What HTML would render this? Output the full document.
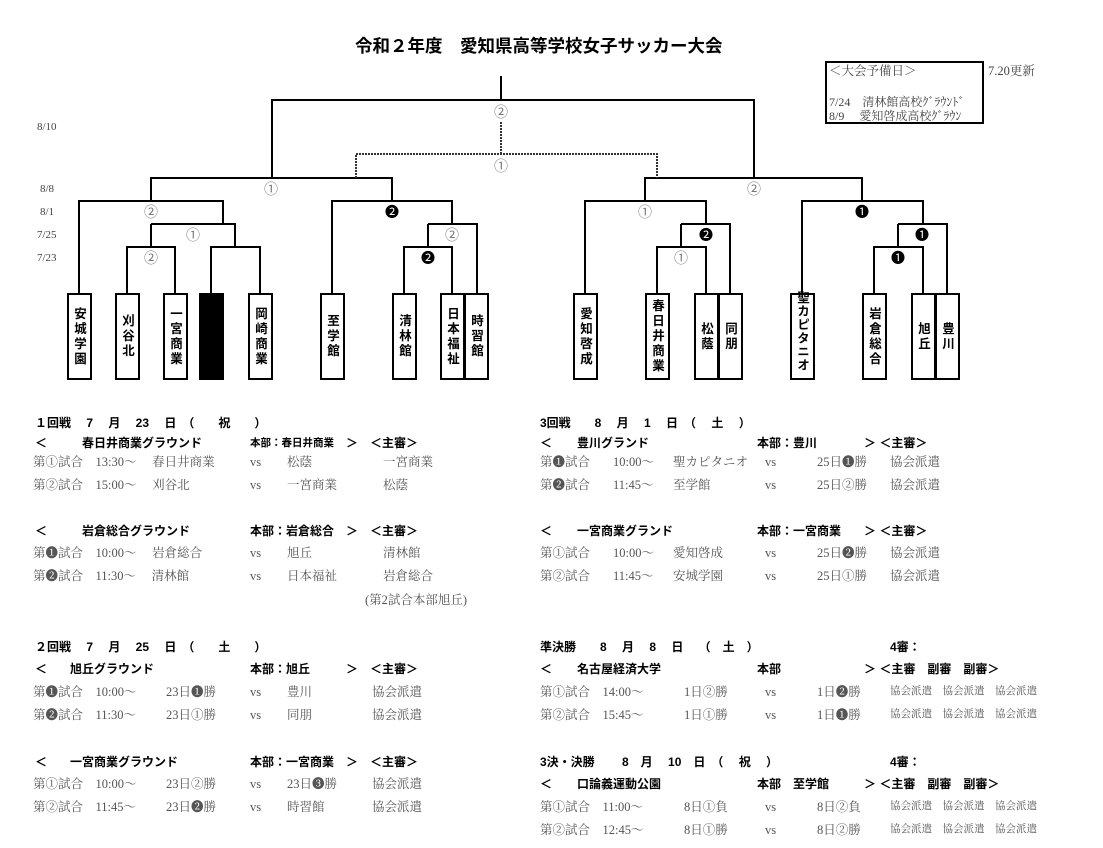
<!DOCTYPE html>
<html><head><meta charset="utf-8">
<style>
body{margin:0;width:1103px;height:848px;background:#fff;position:relative;overflow:hidden;font-family:"Liberation Serif","Noto Serif CJK SC",serif;}
.t{position:absolute;white-space:nowrap;line-height:16px;font-size:12.5px;color:#555;}
.b{font-family:"Liberation Sans","Noto Sans CJK JP",sans-serif;font-weight:bold;color:#000;font-size:12px;}
.s{font-size:10.5px;}
.box{position:absolute;top:293px;height:87px;border:2px solid #000;box-sizing:border-box;background:#fff;display:flex;justify-content:center;align-items:center;overflow:visible;}
.box span{writing-mode:vertical-rl;text-orientation:upright;font-family:"Liberation Sans","Noto Sans CJK JP",sans-serif;font-weight:bold;font-size:12.5px;letter-spacing:2.5px;color:#000;}
.bk{background:#000;}
.c{position:absolute;font-family:"Noto Sans CJK JP","DejaVu Sans",sans-serif;font-size:14px;line-height:16px;transform:translate(-50%,-50%);color:#777;}
.cb{color:#000;}
.d{position:absolute;left:37px;font-size:11px;color:#444;line-height:12px;}
</style></head><body>
<div class="t b" style="left:355px;top:36px;font-size:17.5px;line-height:20px;">令和２年度　愛知県高等学校女子サッカー大会</div>

<svg width="1103" height="400" style="position:absolute;left:0;top:0" xmlns="http://www.w3.org/2000/svg">
<g stroke="#000" stroke-width="2" fill="none">
<path d="M501 76V100M272 178V100H754V178"/>
<path d="M151 201V178H392V201M79 293V201H223V224M151 224H235V247M151 224V247M127 293V247H175V293M211 293V247H260V293"/>
<path d="M332 293V201H452V224M428 224H477V293M428 224V247M404 293V247H452V293"/>
<path d="M645 201V178H862V201M585 293V201H706V224M681 224H730V293M681 224V247M657 293V247H706V293"/>
<path d="M802 293V201H923V224M898 224H947V293M898 224V247M874 293V247H923V293"/>
<rect x="826" y="62" width="157" height="61"/>
</g>
<path d="M501 122V154M356 178V154H657V178" stroke="#333" stroke-width="2" stroke-dasharray="2 1" fill="none"/>
</svg>

<div class="t" style="left:829px;top:63px;font-size:12.5px;color:#444">＜大会予備日＞</div>
<div class="t" style="left:829px;top:94px;font-size:12px;color:#444">7/24　清林館高校ｸﾞﾗｳﾝﾄﾞ</div>
<div class="t" style="left:829px;top:108px;font-size:12px;color:#444">8/9　 愛知啓成高校ｸﾞﾗｳﾝ</div>
<div class="t" style="left:988px;top:63px;font-size:12.5px;color:#444">7.20更新</div>

<div class="d" style="top:121px">8/10</div>
<div class="d" style="top:183px;left:40px">8/8</div>
<div class="d" style="top:206px;left:40px">8/1</div>
<div class="d" style="top:229px">7/25</div>
<div class="d" style="top:252px">7/23</div>

<div class="c" style="left:501px;top:112px">②</div>
<div class="c" style="left:501px;top:166px">①</div>
<div class="c" style="left:271px;top:189px">①</div>
<div class="c" style="left:754px;top:189px">②</div>
<div class="c" style="left:151px;top:212px">②</div>
<div class="c cb" style="left:392px;top:212px">❷</div>
<div class="c" style="left:645px;top:212px">①</div>
<div class="c cb" style="left:862px;top:212px">❶</div>
<div class="c" style="left:193px;top:235px">①</div>
<div class="c" style="left:452px;top:235px">②</div>
<div class="c cb" style="left:706px;top:235px">❷</div>
<div class="c cb" style="left:922px;top:235px">❶</div>
<div class="c" style="left:151px;top:258px">②</div>
<div class="c cb" style="left:428px;top:258px">❷</div>
<div class="c" style="left:681px;top:258px">①</div>
<div class="c cb" style="left:898px;top:258px">❶</div>

<div class="box" style="left:67px;width:25px"><span>安城学園</span></div>
<div class="box" style="left:115px;width:25px"><span>刈谷北</span></div>
<div class="box" style="left:163px;width:25px"><span>一宮商業</span></div>
<div class="box bk" style="left:199px;width:25px"></div>
<div class="box" style="left:248px;width:25px"><span>岡崎商業</span></div>
<div class="box" style="left:320px;width:25px"><span>至学館</span></div>
<div class="box" style="left:392px;width:25px"><span>清林館</span></div>
<div class="box" style="left:440px;width:25px"><span>日本福祉</span></div>
<div class="box" style="left:464px;width:25px"><span>時習館</span></div>
<div class="box" style="left:573px;width:25px"><span>愛知啓成</span></div>
<div class="box" style="left:645px;width:25px"><span>春日井商業</span></div>
<div class="box" style="left:694px;width:25px"><span>松蔭</span></div>
<div class="box" style="left:718px;width:25px"><span>同朋</span></div>
<div class="box" style="left:790px;width:25px;align-items:flex-start"><span style="letter-spacing:1px;margin-top:-4px">聖カピタニオ</span></div>
<div class="box" style="left:862px;width:25px"><span>岩倉総合</span></div>
<div class="box" style="left:911px;width:25px"><span>旭丘</span></div>
<div class="box" style="left:935px;width:25px"><span>豊川</span></div>

<!-- Section 1 -->
<div class="t b" style="left:35px;top:415px">１回戦　 7 　月　 23 　日　（　　祝　　）</div>
<div class="t b" style="left:35px;top:435px">＜</div>
<div class="t b" style="left:82px;top:435px">春日井商業グラウンド</div>
<div class="t b" style="left:250px;top:435px;font-size:10.5px">本部：春日井商業</div>
<div class="t b" style="left:346px;top:435px">＞　＜主審＞</div>
<div class="t" style="left:33px;top:454px">第①試合　13:30～　 春日井商業</div>
<div class="t" style="left:250px;top:454px">vs</div><div class="t" style="left:287px;top:454px">松蔭</div><div class="t" style="left:383px;top:454px">一宮商業</div>
<div class="t" style="left:33px;top:477px">第②試合　15:00～　 刈谷北</div>
<div class="t" style="left:250px;top:477px">vs</div><div class="t" style="left:287px;top:477px">一宮商業</div><div class="t" style="left:383px;top:477px">松蔭</div>
<div class="t b" style="left:35px;top:523px">＜</div>
<div class="t b" style="left:82px;top:523px">岩倉総合グラウンド</div>
<div class="t b" style="left:250px;top:523px">本部：岩倉総合</div>
<div class="t b" style="left:346px;top:523px">＞　＜主審＞</div>
<div class="t" style="left:33px;top:545px">第❶試合　10:00～　 岩倉総合</div>
<div class="t" style="left:250px;top:545px">vs</div><div class="t" style="left:287px;top:545px">旭丘</div><div class="t" style="left:383px;top:545px">清林館</div>
<div class="t" style="left:33px;top:568px">第❷試合　11:30～　 清林館</div>
<div class="t" style="left:250px;top:568px">vs</div><div class="t" style="left:287px;top:568px">日本福祉</div><div class="t" style="left:383px;top:568px">岩倉総合</div>
<div class="t" style="left:365px;top:592px">(第2試合本部旭丘)</div>

<!-- Section 2 -->
<div class="t b" style="left:35px;top:639px">２回戦　 7 　月　 25 　日　（　　土　　）</div>
<div class="t b" style="left:35px;top:661px">＜</div>
<div class="t b" style="left:70px;top:661px">旭丘グラウンド</div>
<div class="t b" style="left:250px;top:661px">本部：旭丘</div>
<div class="t b" style="left:346px;top:661px">＞　＜主審＞</div>
<div class="t" style="left:33px;top:684px">第❶試合　10:00～</div><div class="t" style="left:166px;top:684px">23日❶勝</div>
<div class="t" style="left:250px;top:684px">vs</div><div class="t" style="left:287px;top:684px">豊川</div><div class="t" style="left:372px;top:684px">協会派遣</div>
<div class="t" style="left:33px;top:707px">第❷試合　11:30～</div><div class="t" style="left:166px;top:707px">23日①勝</div>
<div class="t" style="left:250px;top:707px">vs</div><div class="t" style="left:287px;top:707px">同朋</div><div class="t" style="left:372px;top:707px">協会派遣</div>
<div class="t b" style="left:35px;top:754px">＜</div>
<div class="t b" style="left:70px;top:754px">一宮商業グラウンド</div>
<div class="t b" style="left:250px;top:754px">本部：一宮商業</div>
<div class="t b" style="left:346px;top:754px">＞　＜主審＞</div>
<div class="t" style="left:33px;top:776px">第①試合　10:00～</div><div class="t" style="left:166px;top:776px">23日②勝</div>
<div class="t" style="left:250px;top:776px">vs</div><div class="t" style="left:287px;top:776px">23日❸勝</div><div class="t" style="left:372px;top:776px">協会派遣</div>
<div class="t" style="left:33px;top:799px">第②試合　11:45～</div><div class="t" style="left:166px;top:799px">23日❷勝</div>
<div class="t" style="left:250px;top:799px">vs</div><div class="t" style="left:287px;top:799px">時習館</div><div class="t" style="left:372px;top:799px">協会派遣</div>

<!-- Section 3 -->
<div class="t b" style="left:540px;top:415px">3回戦　　8　 月　 1　 日　（　 土　 ）</div>
<div class="t b" style="left:540px;top:435px">＜</div>
<div class="t b" style="left:577px;top:435px">豊川グランド</div>
<div class="t b" style="left:757px;top:435px">本部：豊川</div>
<div class="t b" style="left:864px;top:435px">＞ ＜主審＞</div>
<div class="t" style="left:540px;top:454px">第❶試合</div><div class="t" style="left:613px;top:454px">10:00～</div><div class="t" style="left:673px;top:454px">聖カピタニオ</div>
<div class="t" style="left:765px;top:454px">vs</div><div class="t" style="left:817px;top:454px">25日❶勝</div><div class="t" style="left:890px;top:454px">協会派遣</div>
<div class="t" style="left:540px;top:477px">第❷試合</div><div class="t" style="left:613px;top:477px">11:45～</div><div class="t" style="left:673px;top:477px">至学館</div>
<div class="t" style="left:765px;top:477px">vs</div><div class="t" style="left:817px;top:477px">25日②勝</div><div class="t" style="left:890px;top:477px">協会派遣</div>
<div class="t b" style="left:540px;top:523px">＜</div>
<div class="t b" style="left:577px;top:523px">一宮商業グランド</div>
<div class="t b" style="left:757px;top:523px">本部：一宮商業</div>
<div class="t b" style="left:864px;top:523px">＞ ＜主審＞</div>
<div class="t" style="left:540px;top:545px">第①試合</div><div class="t" style="left:613px;top:545px">10:00～</div><div class="t" style="left:673px;top:545px">愛知啓成</div>
<div class="t" style="left:765px;top:545px">vs</div><div class="t" style="left:817px;top:545px">25日❷勝</div><div class="t" style="left:890px;top:545px">協会派遣</div>
<div class="t" style="left:540px;top:568px">第②試合</div><div class="t" style="left:613px;top:568px">11:45～</div><div class="t" style="left:673px;top:568px">安城学園</div>
<div class="t" style="left:765px;top:568px">vs</div><div class="t" style="left:817px;top:568px">25日①勝</div><div class="t" style="left:890px;top:568px">協会派遣</div>

<!-- Section 4 -->
<div class="t b" style="left:540px;top:639px">準決勝　　8　 月　 8　 日　 （　土　）</div>
<div class="t b" style="left:890px;top:639px">4審：</div>
<div class="t b" style="left:540px;top:661px">＜</div>
<div class="t b" style="left:577px;top:661px">名古屋経済大学</div>
<div class="t b" style="left:757px;top:661px">本部</div>
<div class="t b" style="left:864px;top:661px">＞ ＜主審　副審　副審＞</div>
<div class="t" style="left:540px;top:684px">第①試合　14:00～</div><div class="t" style="left:684px;top:684px">1日②勝</div>
<div class="t" style="left:765px;top:684px">vs</div><div class="t" style="left:817px;top:684px">1日❷勝</div>
<div class="t s" style="left:890px;top:684px">協会派遣　協会派遣　協会派遣</div>
<div class="t" style="left:540px;top:707px">第②試合　15:45～</div><div class="t" style="left:684px;top:707px">1日①勝</div>
<div class="t" style="left:765px;top:707px">vs</div><div class="t" style="left:817px;top:707px">1日❶勝</div>
<div class="t s" style="left:890px;top:707px">協会派遣　協会派遣　協会派遣</div>
<div class="t b" style="left:540px;top:754px">3決・決勝　　 8　月　 10　日　（　 祝　 ）</div>
<div class="t b" style="left:890px;top:754px">4審：</div>
<div class="t b" style="left:540px;top:776px">＜</div>
<div class="t b" style="left:577px;top:776px">口論義運動公園</div>
<div class="t b" style="left:757px;top:776px">本部　至学館</div>
<div class="t b" style="left:864px;top:776px">＞ ＜主審　副審　副審＞</div>
<div class="t" style="left:540px;top:799px">第①試合　11:00～</div><div class="t" style="left:684px;top:799px">8日①負</div>
<div class="t" style="left:765px;top:799px">vs</div><div class="t" style="left:817px;top:799px">8日②負</div>
<div class="t s" style="left:890px;top:799px">協会派遣　協会派遣　協会派遣</div>
<div class="t" style="left:540px;top:822px">第②試合　12:45～</div><div class="t" style="left:684px;top:822px">8日①勝</div>
<div class="t" style="left:765px;top:822px">vs</div><div class="t" style="left:817px;top:822px">8日②勝</div>
<div class="t s" style="left:890px;top:822px">協会派遣　協会派遣　協会派遣</div>
</body></html>
